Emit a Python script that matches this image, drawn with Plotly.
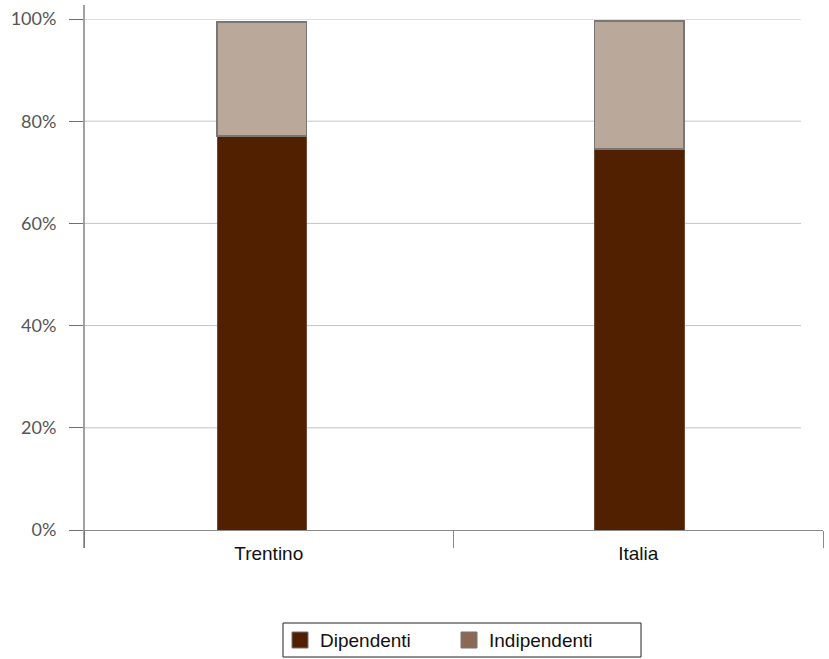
import plotly.graph_objects as go

# Quota di occupati per posizione professionale (%)
categories = ["Trentino", "Italia"]
dipendenti = [77.1, 74.6]
indipendenti = [22.3, 25.0]
y_ticks = [0, 20, 40, 60, 80, 100]
y_tick_labels = ["0%", "20%", "40%", "60%", "80%", "100%"]
series_names = ["Dipendenti", "Indipendenti"]

DARK = "#512000"
MID = "rgb(139,106,85)"
LIGHT = "rgb(186,168,155)"

W, H = 829, 659
M_L, M_R, M_T, M_B = 84, 6, 19, 129
PW, PH = W - M_L - M_R, H - M_T - M_B

def px_x(px):
    return (px - M_L) / PW

def px_y(py):
    return (H - M_B - py) / PH

BAR_W = 0.242
BAR_OFFSET = [-0.14, -0.118]

fig = go.Figure()

fig.add_trace(go.Bar(
    x=categories, y=dipendenti, name=series_names[0], width=BAR_W, offset=BAR_OFFSET,
    marker=dict(color=DARK, line=dict(color="#6e4a30", width=1)),
    hoverinfo="x+y",
))
fig.add_trace(go.Bar(
    x=categories, y=indipendenti, name=series_names[1], width=BAR_W, offset=BAR_OFFSET,
    marker=dict(color=LIGHT, line=dict(color="#7a7676", width=1.5)),
    hoverinfo="x+y",
))

# Horizontal gridlines (stop short of the right end of the x axis)
for v in y_ticks[1:]:
    fig.add_shape(type="line", xref="paper", yref="y",
                  x0=0, x1=px_x(801), y0=v, y1=v,
                  line=dict(color="#c4c4c4", width=1), layer="below")

# Vertical axis line running past both ends of the value range
fig.add_shape(type="line", xref="paper", yref="paper",
              x0=0, x1=0, y0=px_y(548), y1=px_y(5),
              line=dict(color="#707070", width=1.3))

# Boxed legend below the chart
fig.add_shape(type="rect", xref="paper", yref="paper",
              x0=px_x(283), x1=px_x(641), y0=px_y(657), y1=px_y(623),
              line=dict(color="#222222", width=1), fillcolor="white")
for name, col, sx in [(series_names[0], DARK, 292), (series_names[1], MID, 461)]:
    fig.add_shape(type="rect", xref="paper", yref="paper",
                  x0=px_x(sx), x1=px_x(sx + 16), y0=px_y(648), y1=px_y(632),
                  line=dict(color="#777777", width=1), fillcolor=col)
    fig.add_annotation(x=px_x(sx + 26), y=px_y(640), xref="paper", yref="paper",
                       text=name, showarrow=False, xanchor="left", yanchor="middle",
                       font=dict(family="Liberation Sans, Arial, sans-serif", size=19,
                                 color="#111111"))

fig.update_layout(
    width=W, height=H,
    margin=dict(l=M_L, r=M_R, t=M_T, b=M_B, autoexpand=False),
    barmode="stack",
    plot_bgcolor="white", paper_bgcolor="white",
    showlegend=False,
    xaxis=dict(
        showline=True, linecolor="#8a8a8a", linewidth=1.3,
        ticks="outside", tickson="boundaries", ticklen=17, tickcolor="#8a8a8a", tickwidth=1.3,
        showgrid=False, ticklabelstandoff=6,
        tickfont=dict(family="Liberation Sans, Arial, sans-serif", size=19, color="#111111"),
    ),
    yaxis=dict(
        range=[0, 100], tickvals=y_ticks, ticktext=y_tick_labels,
        showgrid=False, zeroline=False, showline=False,
        ticks="outside", ticklen=14, tickcolor="#707070", tickwidth=1.3,
        ticklabelstandoff=9,
        tickfont=dict(family="Lato, Open Sans, sans-serif", size=18, color="#555555"),
    ),
)

fig.write_html("out.html")
